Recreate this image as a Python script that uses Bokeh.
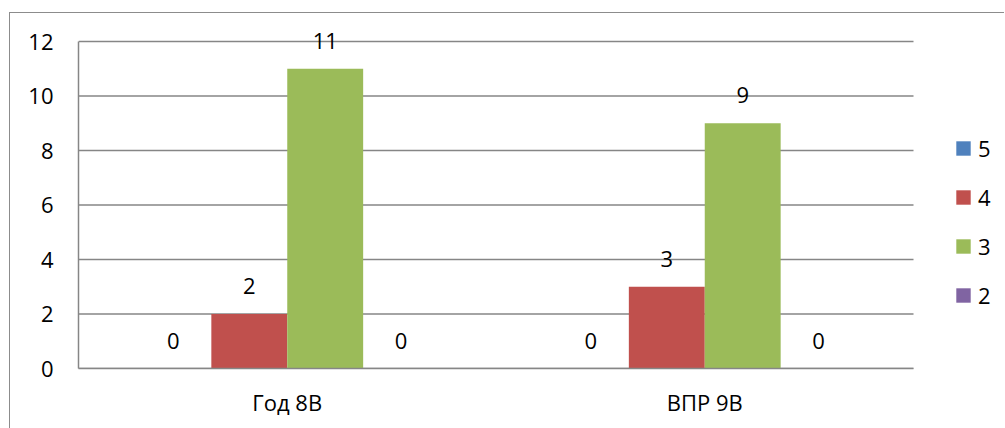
from bokeh.plotting import figure
from bokeh.models import (ColumnDataSource, Legend, LegendItem, Range1d, FixedTicker)
from bokeh.transform import dodge
from bokeh.core.properties import value
from bokeh.embed import file_html
from bokeh.resources import INLINE

categories = ["Год 8В", "ВПР 9В"]
series_names = ["5", "4", "3", "2"]
grade5 = [0, 0]
grade4 = [2, 3]
grade3 = [11, 9]
grade2 = [0, 0]
y_ticks = [0, 2, 4, 6, 8, 10, 12]
colors = ["#4F81BD", "#C0504D", "#9BBB59", "#8064A2"]

FONT = "Open Sans"
FS = "22px"
GRID = "#868686"

n_cat = len(categories)
cat_pos = [i + 0.5 for i in range(n_cat)]

data = {"x": cat_pos}
for name, vals in zip(series_names, [grade5, grade4, grade3, grade2]):
    data["v" + name] = vals
    data["t" + name] = [str(v) for v in vals]
src = ColumnDataSource(data)

# layout (page px): plot area 78..913 wide, 12-gridline at 41, baseline at 368
FR_L, FR_R, FR_T, FR_B, Y12 = 78, 1005, 17, 368, 41
PLOT_R = 913
y_max = y_ticks[-1]
y_end = y_max * (FR_B - FR_T) / (FR_B - Y12)
x_end = n_cat * (FR_R - FR_L) / (PLOT_R - FR_L)

W, H = 995, 420
p = figure(x_range=Range1d(0, x_end), y_range=Range1d(0, y_end),
           width=W, height=H, output_backend="svg", toolbar_location=None,
           min_border_left=68, min_border_top=4, min_border_bottom=65, min_border_right=0,
           styles={"border-left": "1px solid #8c8c8c", "border-top": "1px solid #8c8c8c",
                   "margin-left": "9px", "margin-top": "12px"})
p.outline_line_color = None
p.xgrid.grid_line_color = None
p.ygrid.grid_line_color = None

# horizontal gridlines limited to the plot area
p.segment(x0=[0] * len(y_ticks), x1=[n_cat] * len(y_ticks), y0=y_ticks, y1=y_ticks,
          line_color=GRID, line_width=1.5)

p.yaxis.ticker = FixedTicker(ticks=y_ticks)
p.yaxis.bounds = (0, y_max)
p.yaxis.axis_line_color = GRID
p.yaxis.axis_line_width = 1.5
p.yaxis.major_tick_line_color = None
p.yaxis.minor_tick_line_color = None
p.yaxis.major_tick_out = 0
p.yaxis.major_label_standoff = 25
p.yaxis.major_label_text_font = FONT
p.yaxis.major_label_text_font_size = FS
p.yaxis.major_label_text_color = "black"

p.xaxis.ticker = FixedTicker(ticks=cat_pos)
p.xaxis.major_label_overrides = {pos: c for pos, c in zip(cat_pos, categories)}
p.xaxis.bounds = (0, n_cat)
p.xaxis.axis_line_color = GRID
p.xaxis.axis_line_width = 1.5
p.xaxis.major_tick_line_color = None
p.xaxis.minor_tick_line_color = None
p.xaxis.major_tick_out = 0
p.xaxis.major_label_standoff = 18
p.xaxis.major_label_text_font = FONT
p.xaxis.major_label_text_font_size = FS
p.xaxis.major_label_text_color = "black"

w = 1 / 5.5
offsets = [-1.5 * w, -0.5 * w, 0.5 * w, 1.5 * w]
items = []
for name, col, off in zip(series_names, colors, offsets):
    r = p.vbar(x=dodge("x", off), top="v" + name, width=w,
               source=src, fill_color=col, line_color=None)
    p.text(x=dodge("x", off), y="v" + name, text="t" + name, source=src,
           text_font=value(FONT), text_font_size=FS, text_align="center",
           text_baseline="middle", y_offset=-28, text_color="black")
    items.append(LegendItem(label=name, renderers=[r]))

legend = Legend(items=items, location=(876, 58), orientation="vertical",
                glyph_width=18, glyph_height=18, label_height=25, spacing=19,
                label_standoff=6, label_text_font=FONT, label_text_font_size=FS,
                label_text_color="black",
                padding=0, margin=0, border_line_color=None, background_fill_alpha=0)
p.add_layout(legend, "center")

open("out.html", "w").write(file_html(p, INLINE))
